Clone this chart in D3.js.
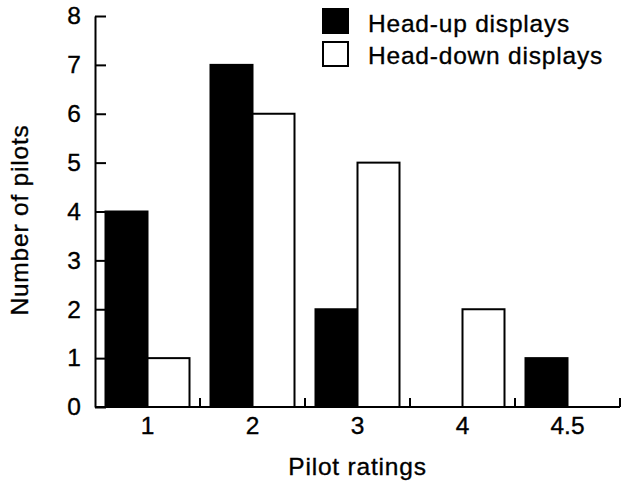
<!DOCTYPE html>
<html>
<head>
<meta charset="utf-8">
<script src="https://cdn.jsdelivr.net/npm/d3@7/dist/d3.min.js"></script>
<style>
  html, body { margin: 0; padding: 0; background: #fff; }
  text { font-family: "Liberation Sans", Arial, Helvetica, sans-serif; fill: #000; stroke: #000; stroke-width: 0.35px; }
</style>
</head>
<body>
<svg id="chart" width="621" height="484"></svg>
<script>
const categories = ["1", "2", "3", "4", "4.5"];
const seriesNames = ["Head-up displays", "Head-down displays"];
const headUp = [4, 7, 2, 0, 1];
const headDown = [1, 6, 5, 2, 0];
const yTicks = [0, 1, 2, 3, 4, 5, 6, 7, 8];

(function () {
const svg = d3.select("#chart");
const mLeft = 95, mRight = 620, mTop = 16, mBottom = 407;
const fontSize = 24.5, letterSp = 0.8;

const x0 = d3.scaleBand().domain(categories).range([mLeft, mRight]).paddingInner(0.2).paddingOuter(0.1);
const x1 = d3.scaleBand().domain(seriesNames).range([0, x0.bandwidth()]).padding(0);
const y = d3.scaleLinear().domain([0, 8]).range([mBottom, mTop]);
const fills = { "Head-up displays": "#000", "Head-down displays": "#fff" };

const data = categories.map((c, i) => ({ cat: c, vals: [
  { s: seriesNames[0], v: headUp[i] },
  { s: seriesNames[1], v: headDown[i] }
]}));

// bars
const g = svg.append("g");
g.selectAll("g.grp").data(data).join("g")
  .attr("transform", d => `translate(${x0(d.cat)},0)`)
  .selectAll("rect").data(d => d.vals.filter(e => e.v > 0)).join("rect")
  .attr("x", d => x1(d.s))
  .attr("y", d => y(d.v))
  .attr("width", x1.bandwidth())
  .attr("height", d => y(0) - y(d.v))
  .attr("fill", d => fills[d.s])
  .attr("stroke", "#000")
  .attr("stroke-width", 2);

// y axis
const yAxis = svg.append("g").attr("transform", `translate(${mLeft},0)`)
  .call(d3.axisLeft(y).tickValues(yTicks).tickSize(-11).tickPadding(14).tickSizeOuter(0));
yAxis.select(".domain").attr("stroke", "#000").attr("stroke-width", 2);
yAxis.selectAll(".tick line").attr("stroke", "#000").attr("stroke-width", 2);
yAxis.selectAll(".tick text").style("font-size", fontSize + "px").style("font-family", "Liberation Sans, Arial, sans-serif").attr("fill", "#000");

// x axis baseline with category labels
const xAxis = svg.append("g").attr("transform", `translate(0,${mBottom})`)
  .call(d3.axisBottom(x0).tickSize(0).tickPadding(10));
xAxis.select(".domain").remove();
xAxis.selectAll(".tick text").style("font-size", fontSize + "px").style("font-family", "Liberation Sans, Arial, sans-serif").attr("fill", "#000").attr("dy", "0.71em");
svg.append("line").attr("x1", mLeft).attr("x2", mRight).attr("y1", mBottom).attr("y2", mBottom)
  .attr("stroke", "#000").attr("stroke-width", 2);

// group boundary ticks
const step = x0.step();
const boundaries = categories.map((c, i) => mLeft + step * (i + 1));
svg.selectAll("line.bt").data(boundaries).join("line")
  .attr("x1", d => d).attr("x2", d => d)
  .attr("y1", mBottom).attr("y2", mBottom - 9)
  .attr("stroke", "#000").attr("stroke-width", 2);

// axis titles
svg.append("text").attr("x", (mLeft + mRight) / 2).attr("y", 475)
  .attr("text-anchor", "middle").style("font-size", fontSize + "px").style("letter-spacing", letterSp + "px")
  .text("Pilot ratings");
svg.append("text").attr("transform", "translate(28,220) rotate(-90)")
  .attr("text-anchor", "middle").style("font-size", fontSize + "px").style("letter-spacing", letterSp + "px")
  .text("Number of pilots");

// legend
const legend = svg.append("g");
seriesNames.forEach((s, i) => {
  legend.append("rect").attr("x", 323).attr("y", 9 + i * 33).attr("width", 25).attr("height", 24)
    .attr("fill", fills[s]).attr("stroke", "#000").attr("stroke-width", 2);
  legend.append("text").attr("x", 368).attr("y", 32 + i * 32)
    .style("font-size", fontSize + "px").style("letter-spacing", letterSp + "px").text(s);
});
})();
</script>
</body>
</html>
